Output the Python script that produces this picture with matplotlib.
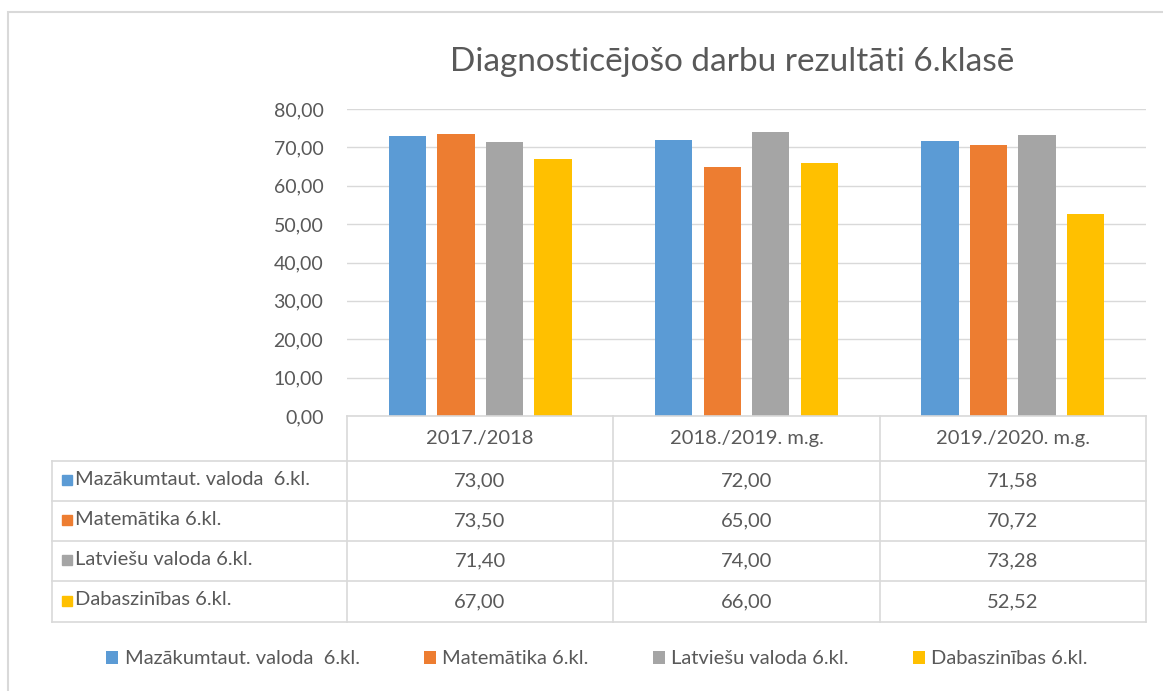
import matplotlib
matplotlib.use("Agg")
import matplotlib.pyplot as plt
from matplotlib.patches import Rectangle
import numpy as np

plt.rcParams["font.family"] = ["Lato", "DejaVu Sans"]

# --- data ---
years = ["2017./2018", "2018./2019. m.g.", "2019./2020. m.g."]
series = ["Mazākumtaut. valoda  6.kl.", "Matemātika 6.kl.",
          "Latviešu valoda 6.kl.", "Dabaszinības 6.kl."]
mazakumtaut = [73.00, 72.00, 71.58]
matematika = [73.50, 65.00, 70.72]
latviesu = [71.40, 74.00, 73.28]
dabaszinibas = [67.00, 66.00, 52.52]
colors = ["#5B9BD5", "#ED7D31", "#A5A5A5", "#FFC000"]
title = "Diagnosticējošo darbu rezultāti 6.klasē"

W, H = 1163, 691
TXT = "#595959"
LINE = "#d9d9d9"
FS = 14.5


def box(x0, y0, x1, y1):
    # pixel box (top-left origin) -> figure fraction rect
    return [x0 / W, 1 - y1 / H, (x1 - x0) / W, (y1 - y0) / H]


fig = plt.figure(figsize=(W / 100, H / 100), dpi=100)

# chart frame
fig.patches.append(Rectangle((8 / W, -0.05), 1.2, 1 - 12 / H + 0.05,
                             transform=fig.transFigure, fill=False,
                             edgecolor=LINE, linewidth=1.5))

fig.text(732 / W, 1 - 62 / H, title, ha="center", va="center",
         fontsize=24, color=TXT)

# --- bars ---
ax = fig.add_axes(box(347, 109, 1146, 416))
vals = [mazakumtaut, matematika, latviesu, dabaszinibas]
x = np.arange(len(years))
bw = 0.14
step = 0.182
handles = []
for i, (v, c, lab) in enumerate(zip(vals, colors, series)):
    b = ax.bar(x + (i - 1.5) * step, v, width=bw, color=c, label=lab, zorder=3)
    handles.append(b)
ax.set_xlim(-0.5, len(years) - 0.5)
ax.set_ylim(0, 80)
ax.set_yticks(np.arange(0, 81, 10))
ax.set_yticklabels([f"{t:.2f}".replace(".", ",") for t in np.arange(0, 81, 10)])
ax.tick_params(axis="y", length=0, labelsize=14, labelcolor=TXT, pad=17)
ax.set_xticks([])
ax.grid(axis="y", color=LINE, linewidth=1, zorder=0)
for s in ax.spines.values():
    s.set_visible(False)
ax.patch.set_alpha(0)

# --- data table ---
tax = fig.add_axes(box(52, 416, 1146, 622))
tax.set_xlim(52, 1146)
tax.set_ylim(622, 416)
tax.axis("off")
col_edges = [347, 613, 880, 1146]
row_edges = [416, 461, 501, 541, 581, 622]
lk = dict(color=LINE, linewidth=1.2, clip_on=False)
tax.plot([347, 1146], [416, 416], **lk)
for y in row_edges[1:]:
    tax.plot([52, 1146], [y, y], **lk)
for xe in col_edges:
    tax.plot([xe, xe], [416, 622], **lk)
tax.plot([52, 52], [461, 622], **lk)

for j, yr in enumerate(years):
    cx = (col_edges[j] + col_edges[j + 1]) / 2
    tax.text(cx, 438, yr, ha="center", va="center", fontsize=FS, color=TXT)
for i, (lab, v, c) in enumerate(zip(series, vals, colors)):
    cy = (row_edges[i + 1] + row_edges[i + 2]) / 2
    tax.add_patch(Rectangle((62, cy - 6), 10, 10, color=c, clip_on=False))
    tax.text(75, cy - 2, lab, ha="left", va="center", fontsize=FS, color=TXT)
    for j in range(len(years)):
        cx = (col_edges[j] + col_edges[j + 1]) / 2
        tax.text(cx, cy, f"{v[j]:.2f}".replace(".", ","), ha="center",
                 va="center", fontsize=FS, color=TXT)

# --- legend ---
leg = fig.legend(handles=handles, labels=series, loc="center", ncol=4,
                 bbox_to_anchor=(597 / W, 1 - 659 / H), frameon=False,
                 handlelength=0.6, handleheight=0.6, handletextpad=0.3,
                 columnspacing=3.2, fontsize=FS)
for t in leg.get_texts():
    t.set_color(TXT)

fig.savefig("out.png", dpi=100, facecolor="white")
